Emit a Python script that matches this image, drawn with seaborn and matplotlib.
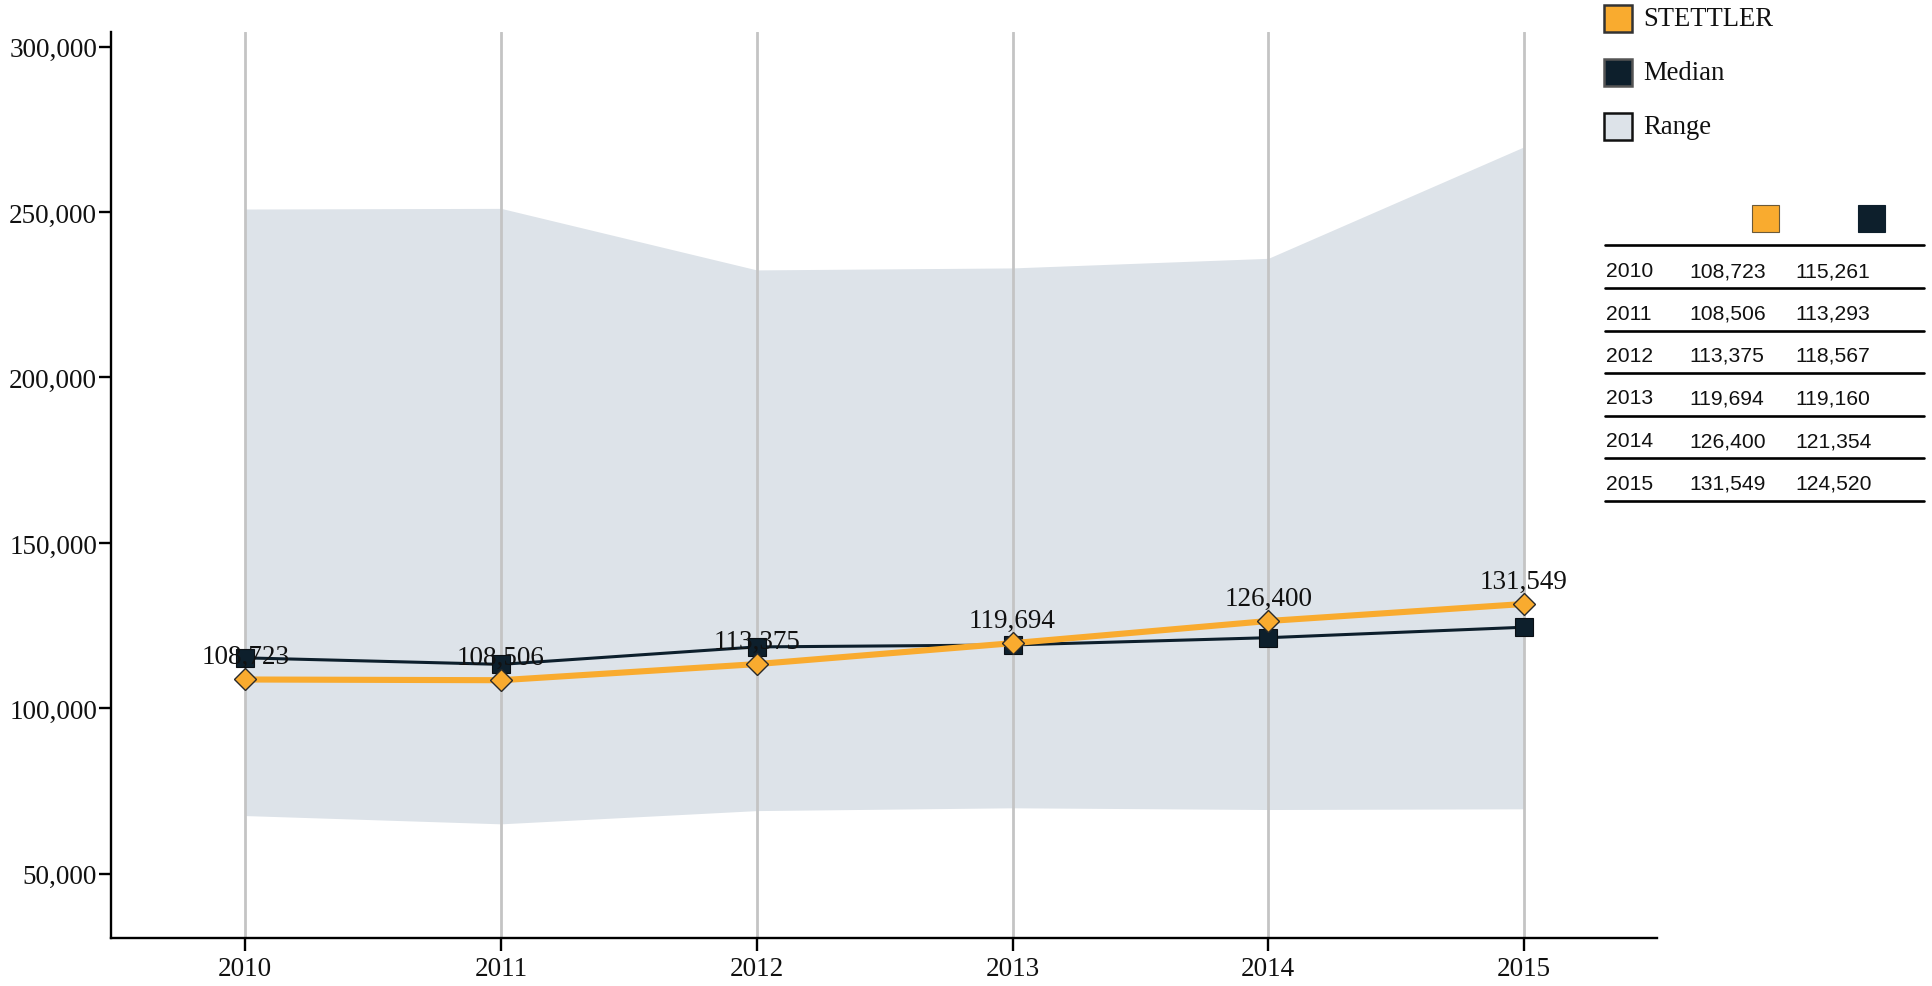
import matplotlib
matplotlib.use("Agg")
import matplotlib.pyplot as plt
from matplotlib.lines import Line2D
from matplotlib.patches import Rectangle
import matplotlib.ticker as mticker
import seaborn as sns
import pandas as pd

# --- data ---------------------------------------------------------------
years = [2010, 2011, 2012, 2013, 2014, 2015]
stettler = [108723, 108506, 113375, 119694, 126400, 131549]
median = [115261, 113293, 118567, 119160, 121354, 124520]
range_low = [67600, 65100, 69100, 69950, 69430, 69640]
range_high = [250900, 251100, 232500, 233100, 236000, 269700]
y_ticks = [50000, 100000, 150000, 200000, 250000, 300000]

# --- style --------------------------------------------------------------
ORANGE = "#F9AB2F"
NAVY = "#0D1F2C"
BAND = "#DDE3E9"
GRID = "#C4C4C4"
SERIF = "Liberation Serif"
SANS = "Liberation Sans"

sns.set_theme(style="white")
plt.rcParams["font.family"] = [SERIF, "DejaVu Serif"]

W, H, DPI = 1932, 987, 100
fig = plt.figure(figsize=(W / DPI, H / DPI), dpi=DPI)
ax = fig.add_axes([111 / W, 1 - 939 / H, (1657 - 111) / W, (939 - 33) / H])

df = pd.DataFrame({"year": years, "STETTLER": stettler, "Median": median})

# shaded range between min and max
ax.fill_between(years, range_low, range_high, color=BAND, lw=0, zorder=1)

# vertical year grid
for yr in years:
    ax.axvline(yr, color=GRID, lw=2.0, zorder=1.5)

sns.lineplot(data=df, x="year", y="Median", ax=ax, color=NAVY, lw=2.2,
             marker="s", markersize=12.8, markeredgecolor="#0A0F14",
             markeredgewidth=0.8, zorder=3, legend=False)
sns.lineplot(data=df, x="year", y="STETTLER", ax=ax, color=ORANGE, lw=4.4,
             marker="D", markersize=11.3, markerfacecolor=ORANGE,
             markeredgecolor="#2A2A2A", markeredgewidth=1.0, zorder=4,
             legend=False)

for yr, v in zip(years, stettler):
    ax.annotate(f"{v:,}", (yr, v), xytext=(0, 16.5), textcoords="offset points",
                ha="center", va="center", fontsize=19.5, family=SERIF,
                color="#111111", zorder=5)

ax.set_xlim(2009.475, 2015.52)
ax.set_ylim(30600, 304400)
ax.set_xticks(years)
ax.set_xticklabels([str(y) for y in years])
ax.set_yticks(y_ticks)
ax.yaxis.set_major_formatter(mticker.FuncFormatter(lambda v, p: f"{int(v):,}"))
ax.set_xlabel("")
ax.set_ylabel("")
ax.grid(False)

for side in ("top", "right"):
    ax.spines[side].set_visible(False)
for side in ("left", "bottom"):
    ax.spines[side].set_color("black")
    ax.spines[side].set_linewidth(1.7)
ax.tick_params(axis="both", which="major", direction="out", length=9,
               width=1.7, color="black", labelsize=19.5, labelcolor="#111111",
               bottom=True, left=True)
ax.tick_params(axis="y", pad=1)
ax.tick_params(axis="x", pad=4)
ax.set_facecolor("white")

# --- legend -------------------------------------------------------------
def fx(px):
    return px / W

def fy(py):
    return 1 - py / H

legend_items = [("STETTLER", ORANGE, "#333333", 19),
                ("Median", NAVY, "#555555", 73),
                ("Range", BAND, "#111111", 127)]
for label, face, edge, cy in legend_items:
    fig.patches.append(Rectangle((fx(1604), fy(cy + 13.5)), 28 / W, 27 / H,
                                 transform=fig.transFigure, facecolor=face,
                                 edgecolor=edge, lw=1.8))
    fig.text(fx(1643), fy(cy), label, ha="left", va="center",
             fontsize=19.2, family=SERIF, color="#111111")

# --- value table --------------------------------------------------------
fig.patches.append(Rectangle((fx(1752), fy(233)), 27 / W, 27 / H,
                             transform=fig.transFigure, facecolor=ORANGE,
                             edgecolor="#6b5a3a", lw=0.8))
fig.patches.append(Rectangle((fx(1858), fy(233)), 27 / W, 27 / H,
                             transform=fig.transFigure, facecolor=NAVY,
                             edgecolor=NAVY, lw=0.8))

row_lines = [246, 289, 331.5, 373.5, 416.5, 459, 502]
for ly in row_lines:
    fig.lines.append(Line2D([fx(1605), fx(1924)], [fy(ly), fy(ly)],
                            transform=fig.transFigure, color="black", lw=1.9))

for i, (yr, s, m) in enumerate(zip(years, stettler, median)):
    cy = (row_lines[i] + row_lines[i + 1]) / 2 + 4
    for x0, txt in ((1606, str(yr)), (1689, f"{s:,}"), (1795, f"{m:,}")):
        fig.text(fx(x0), fy(cy), txt, ha="left", va="center",
                 fontsize=15.2, family=SANS, color="#111111")

fig.savefig("out.png", dpi=DPI, facecolor="white")
